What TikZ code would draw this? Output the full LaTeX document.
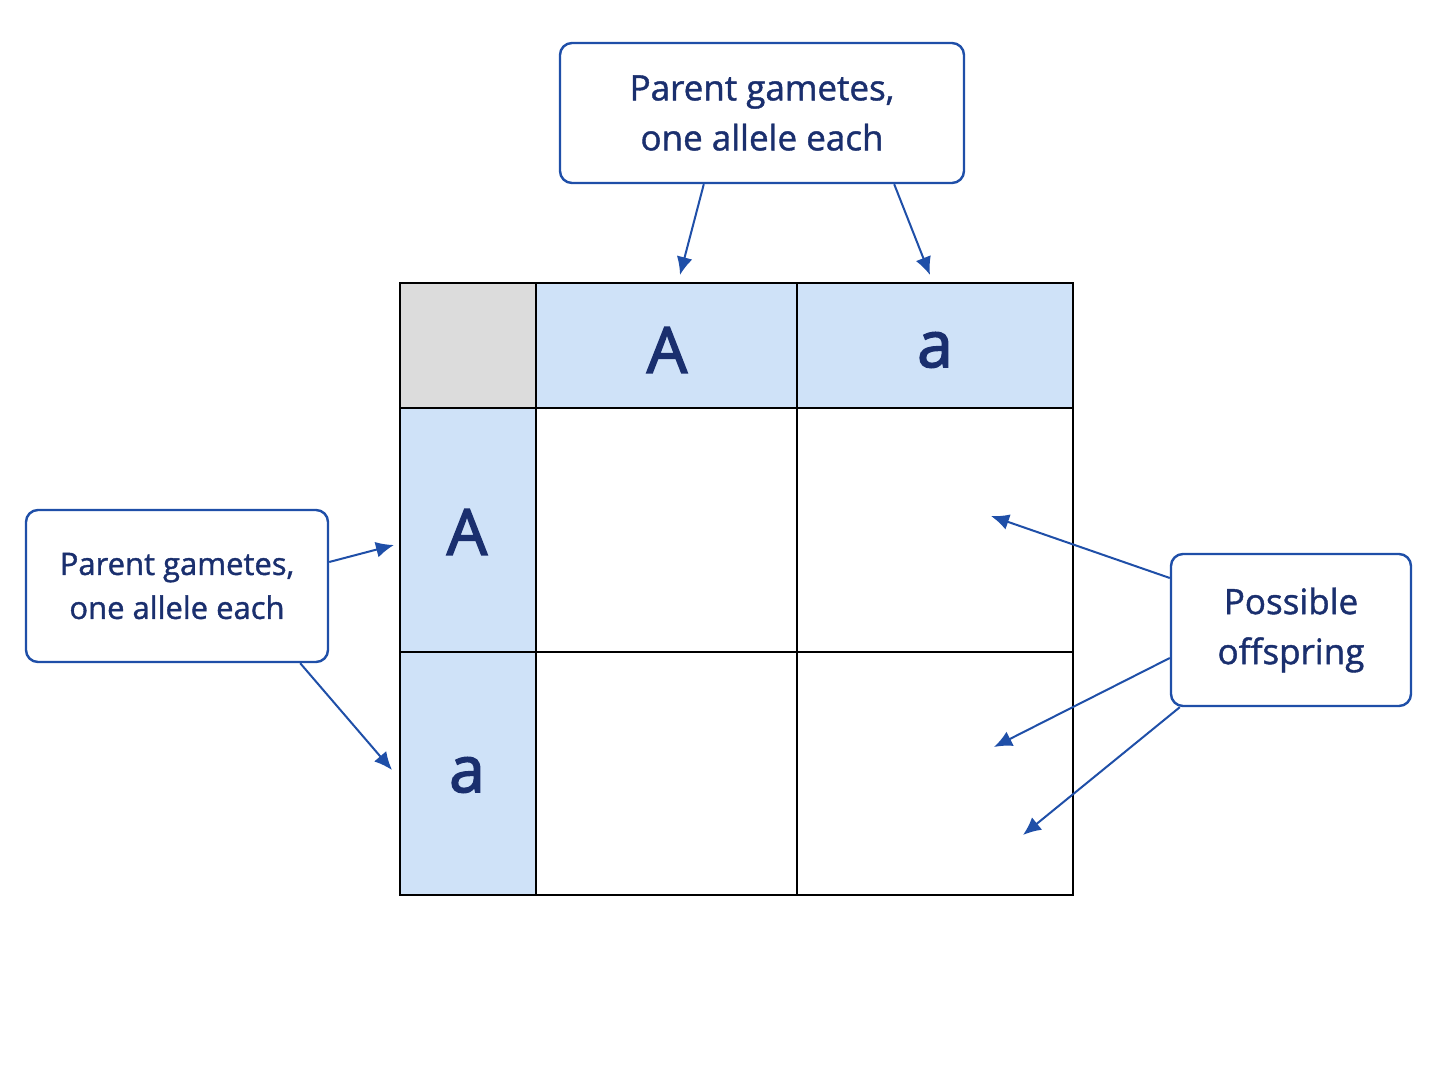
\documentclass[tikz,border=0pt]{standalone}
\usepackage{fontspec}
\setmainfont{Open Sans}
\newfontfamily\labelfont{Open Sans}[FakeBold=1.2]
\newfontfamily\letterfont{Open Sans}[FakeBold=2.5]
\usetikzlibrary{arrows.meta}
\definecolor{navy}{HTML}{1A2F6E}
\definecolor{arrblue}{HTML}{1F4FA8}
\definecolor{headblue}{HTML}{CFE2F8}
\definecolor{cornergray}{HTML}{DCDCDC}
\tikzset{
  note/.style={draw=arrblue, line width=1.2pt, rounded corners=6pt, fill=white,
    text=navy, align=center, inner sep=0pt},
  pointer/.style={draw=arrblue, line width=1pt, -{Latex[length=9pt,width=8pt]}},
  cell/.style={draw=black, line width=0.8pt},
  allele/.style={text=navy, font=\fontsize{32}{36}\letterfont}
}
\begin{document}
\begin{tikzpicture}[x=0.5pt, y=-0.5pt]
        \useasboundingbox (0,0) rectangle (1448,1086);
        % Grid cells
        \filldraw[cell, fill=cornergray] (400,283) rectangle (536,408);
        \filldraw[cell, fill=headblue] (536,283) rectangle (797,408);
        \filldraw[cell, fill=headblue] (797,283) rectangle (1073,408);
        \filldraw[cell, fill=headblue] (400,408) rectangle (536,652);
        \filldraw[cell, fill=headblue] (400,652) rectangle (536,895);
        \draw[cell] (536,408) rectangle (797,652);
        \draw[cell] (797,408) rectangle (1073,652);
        \draw[cell] (536,652) rectangle (797,895);
        \draw[cell] (797,652) rectangle (1073,895);
        % Alleles
        \node[allele] (colA) at (667,350) {A};
        \node[allele] (cola) at (935,350) {a};
        \node[allele] (rowA) at (467,532) {A};
        \node[allele] (rowa) at (467,775) {a};
        % Boxes
        \node[note, minimum width=202pt, minimum height=70pt,
          font=\fontsize{17.5}{25}\labelfont] (top) at (762,113)
          {Parent gametes,\\one allele each};
        \node[note, minimum width=151pt, minimum height=76pt,
          font=\fontsize{15.5}{22}\labelfont] (left) at (177,586)
          {Parent gametes,\\one allele each};
        \node[note, minimum width=120pt, minimum height=76pt,
          font=\fontsize{17.5}{25}\labelfont] (right) at (1291,630)
          {Possible\\offspring};
        % Arrow ends
        \coordinate (t1) at (680,275);
        \coordinate (t2) at (930,275);
        \coordinate (l1) at (394,545);
        \coordinate (l2) at (392,770);
        \coordinate (r1) at (991,516);
        \coordinate (r2) at (994,747);
        \coordinate (r3) at (1023,835);
        % Arrows
        \draw[pointer] (top.south west) ++(145,0) -- (t1);
        \draw[pointer] (top.south east) ++(-71,0) -- (t2);
        \draw[pointer] (left.east) ++(0,-24) -- (l1);
        \draw[pointer] (left.south east) ++(-29,0) -- (l2);
        \draw[pointer] (right.west) ++(0,-52) -- (r1);
        \draw[pointer] (right.west) ++(0,28) -- (r2);
        \draw[pointer] (right.south west) ++(10,0) -- (r3);
    \end{tikzpicture}
\end{document}
